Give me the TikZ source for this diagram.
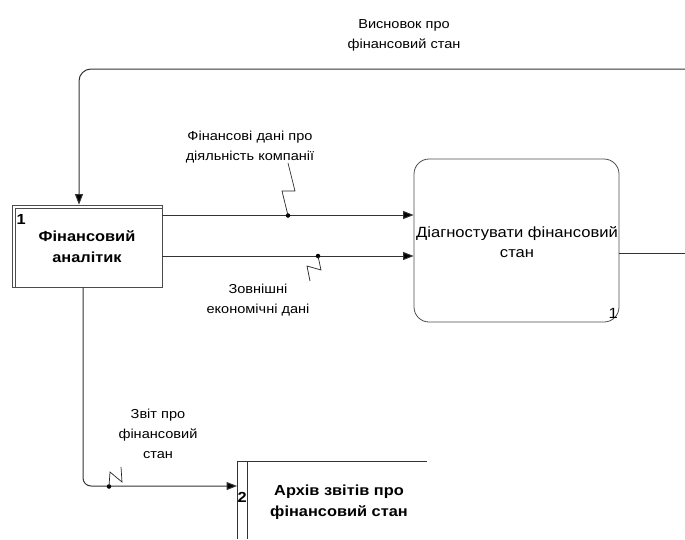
\documentclass[tikz,border=0pt]{standalone}
\usepackage{fontspec}
\setmainfont{Liberation Sans}[FakeStretch=1.12]
\usetikzlibrary{arrows.meta}
\begin{document}
\begin{tikzpicture}[x=1pt,y=-1pt,
  every node/.style={font=\fontsize{13}{20}\selectfont, align=center, inner sep=0pt},
  line/.style={draw=black!80, line width=1pt},
  flow/.style={line, -{Triangle[length=10.5pt,width=8pt,fill=black]}},
  tick/.style={draw=black!85, line width=0.7pt},
  joint/.style={fill=black, circle, minimum size=4.5pt, inner sep=0pt},
  entity/.style={draw=black!70, line width=0.8pt, minimum width=150pt, minimum height=82pt},
  process/.style={draw=black!70, line width=0.8pt, rounded corners=15pt, minimum width=205pt, minimum height=163pt},
  boldlbl/.style={font=\bfseries\fontsize{14.6}{21}\selectfont},
  proclbl/.style={font=\fontsize{14.8}{20}\selectfont}
]
\useasboundingbox (0,0) rectangle (685,539);

% external entity: Financial analyst
\node[entity] (ent) at (87,246) {};
\draw[draw=black!70, line width=0.8pt] (15,287) -- (15,208) -- (162,208);
\node[boldlbl, anchor=north west] (entnum) at (16.5,214.5) {1};
\node[boldlbl] (entlbl) at (87,247) {Фінансовий\\аналітик};

% process 1
\node[process] (proc) at (516.5,240.5) {};
\node[proclbl] (proclbl) at (517,242) {Діагностувати фінансовий\\стан};
\node[proclbl, anchor=south east] (procnum) at (618,319) {1};

% data store 2
\coordinate (st) at (237,461);
\draw[draw=black!80, line width=0.8pt] (237,539) -- (st) -- (427,461);
\draw[draw=black!80, line width=0.8pt] (247,461) -- (247,539);
\node[boldlbl, anchor=west] (stnum) at (237.5,497) {2};
\node[boldlbl] (stlbl) at (339,502) {Архів звітів про\\фінансовий стан};

% flows from the analyst into the process
\draw[flow] (ent.east |- 0,215) -- (proc.west |- 0,215);
\draw[flow] (ent.east |- 0,256) -- (proc.west |- 0,256);

% output of the process and the feedback to the analyst
\coordinate (outend) at (685,253);
\draw[line] (proc.east |- outend) -- (outend);
\coordinate (fbstart) at (685,69);
\draw[flow, rounded corners=12pt] (fbstart) -| (ent.north -| 79,0);

% report to the archive
\draw[flow, rounded corners=8pt] (ent.south -| 83,0) |- (st |- 0,486);

% labels with their leader ticks
\node (l1) at (250,147.5) {Фінансові дані про\\діяльність компанії};
\node[joint] (d1) at (288,215.5) {};
\draw[tick] (288,163) -- (295,191) -- (282,191) -- (d1.center);

\node (l2) at (258,300.5) {Зовнішні\\економічні дані};
\node[joint] (d2) at (318,256) {};
\draw[tick] (d2.center) -- (321,270) -- (307,266) -- (310,281);

\node (l3) at (404,35) {Висновок про\\фінансовий стан};

\node (l4) at (158,434) {Звіт про\\фінансовий\\стан};
\node[joint] (d3) at (109,486.5) {};
\draw[tick] (d3.center) -- (110,472) -- (122,482) -- (121,467);
\end{tikzpicture}
\end{document}
